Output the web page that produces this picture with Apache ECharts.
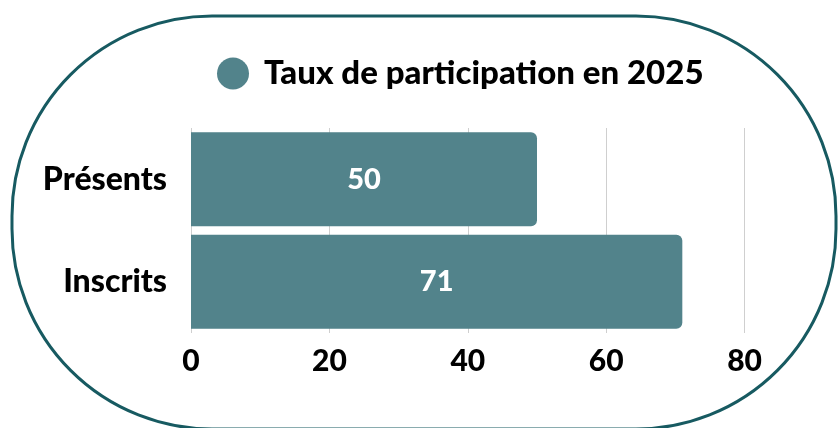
<!DOCTYPE html>
<html>
<head>
<meta charset="utf-8">
<style>
  html, body { margin: 0; padding: 0; background: #ffffff; }
  #chart { width: 839px; height: 428px; }
</style>
<script src="https://cdn.jsdelivr.net/npm/echarts@6/dist/echarts.min.js"></script>
</head>
<body>
<div id="chart"></div>
<script>
// Participation figures for 2025
const categories = ['Présents', 'Inscrits'];
const participation = [50, 71];
const seriesName = 'Taux de participation en 2025';
const xTicks = { min: 0, max: 80, interval: 20 };

const barColor = '#52838b';
const frameColor = '#175a61';
const fontFamily = 'Lato, "Noto Sans", sans-serif';

const chart = echarts.init(document.getElementById('chart'), null, { renderer: 'canvas' });

chart.setOption({
  backgroundColor: '#ffffff',
  animation: false,
  graphic: [{
    // pill-shaped frame around the whole chart
    type: 'rect',
    silent: true,
    z: -1,
    shape: { x: 12, y: 16, width: 824, height: 413, r: 200 },
    style: { fill: 'none', stroke: frameColor, lineWidth: 3 }
  }],
  legend: {
    show: true,
    left: 217,
    top: 57,
    padding: 0,
    icon: 'circle',
    itemWidth: 32,
    itemHeight: 32,
    textStyle: {
      fontFamily: fontFamily,
      fontWeight: 900,
      fontSize: 33,
      color: '#000000',
      padding: [0, 0, 0, 10]
    },
    data: [seriesName]
  },
  grid: { left: 191, right: 94.4, top: 128, bottom: 95, containLabel: false },
  xAxis: {
    type: 'value',
    min: xTicks.min,
    max: xTicks.max,
    interval: xTicks.interval,
    axisLine: { show: false },
    axisTick: { show: false },
    splitLine: { show: true, lineStyle: { color: '#cfcfcf', width: 1 } },
    axisLabel: {
      margin: 13,
      fontFamily: fontFamily,
      fontWeight: 900,
      fontSize: 30,
      color: '#000000'
    }
  },
  yAxis: {
    type: 'category',
    inverse: true,
    data: categories,
    axisLine: { show: false },
    axisTick: { show: false },
    splitLine: { show: false },
    axisLabel: {
      margin: 24,
      fontFamily: fontFamily,
      fontWeight: 900,
      fontSize: 32,
      color: '#000000'
    }
  },
  series: [{
    name: seriesName,
    type: 'bar',
    data: participation,
    barWidth: 94,
    itemStyle: { color: barColor, borderRadius: [0, 6, 6, 0] },
    label: {
      show: true,
      position: 'inside',
      fontFamily: fontFamily,
      fontWeight: 900,
      fontSize: 29,
      color: '#ffffff'
    }
  }]
});
</script>
</body>
</html>
